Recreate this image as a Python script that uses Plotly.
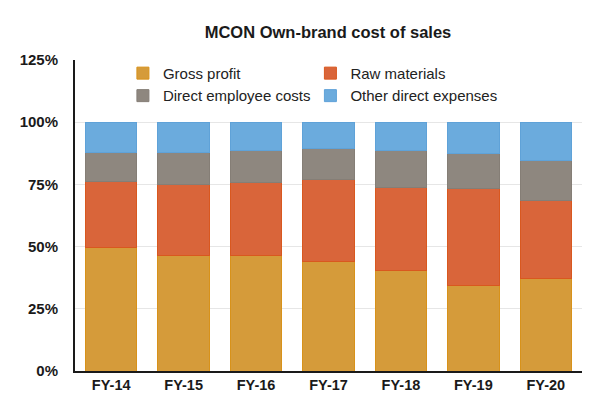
import plotly.graph_objects as go

categories = ["FY-14", "FY-15", "FY-16", "FY-17", "FY-18", "FY-19", "FY-20"]
gross_profit = [49.7, 46.5, 46.5, 44.0, 40.5, 34.5, 37.1]
raw_materials = [26.3, 28.6, 29.2, 32.8, 33.2, 38.8, 31.3]
direct_employee = [12.0, 12.9, 12.8, 12.8, 14.8, 14.2, 16.1]
other_direct = [12.0, 12.0, 11.5, 10.4, 11.5, 12.5, 15.5]

series = [
    ("Gross profit", gross_profit, "#D59B3A", "#D8921A"),
    ("Raw materials", raw_materials, "#D9653A", "#D9581F"),
    ("Direct employee costs", direct_employee, "#8E877F", "#857E76"),
    ("Other direct expenses", other_direct, "#6BABDD", "#5FA2D8"),
]

FONT = "Liberation Sans, Arial, Helvetica, sans-serif"

fig = go.Figure()
for name, vals, col, lcol in series:
    fig.add_trace(go.Bar(
        x=categories, y=vals, name=name,
        marker=dict(color=col, line=dict(color=lcol, width=1)),
    ))

fig.update_layout(
    width=600, height=397,
    barmode="stack", bargap=0.29,
    paper_bgcolor="white", plot_bgcolor="white",
    margin=dict(l=67, r=26, t=52, b=32),
    font=dict(family=FONT, color="#1a1a1a"),
    title=dict(text="<b>MCON Own-brand cost of sales</b>", x=320 / 600, xanchor="center",
               y=1 - 24 / 397, yanchor="middle", font=dict(size=16.5, color="#1a1a1a")),
    showlegend=True,
    legend=dict(orientation="h", x=0.0945, xanchor="left", y=1.01, yanchor="top",
                entrywidth=142.5, entrywidthmode="pixels", traceorder="normal",
                font=dict(size=15, color="#222"), bgcolor="rgba(0,0,0,0)"),
)
fig.update_yaxes(range=[0, 125], dtick=25, ticksuffix="%", showgrid=True, gridcolor="#e6e6e6",
                 gridwidth=1, zeroline=False, showline=True, linecolor="#1a1a1a", linewidth=2,
                 tickfont=dict(size=15, weight="bold", color="#1a1a1a"), ticks="", ticklen=0,
                 ticklabelstandoff=12)
fig.update_xaxes(showline=True, linecolor="#1a1a1a", linewidth=2, ticks="",
                 tickfont=dict(size=14.5, weight="bold", color="#1a1a1a"))

fig.write_html("out.html")
